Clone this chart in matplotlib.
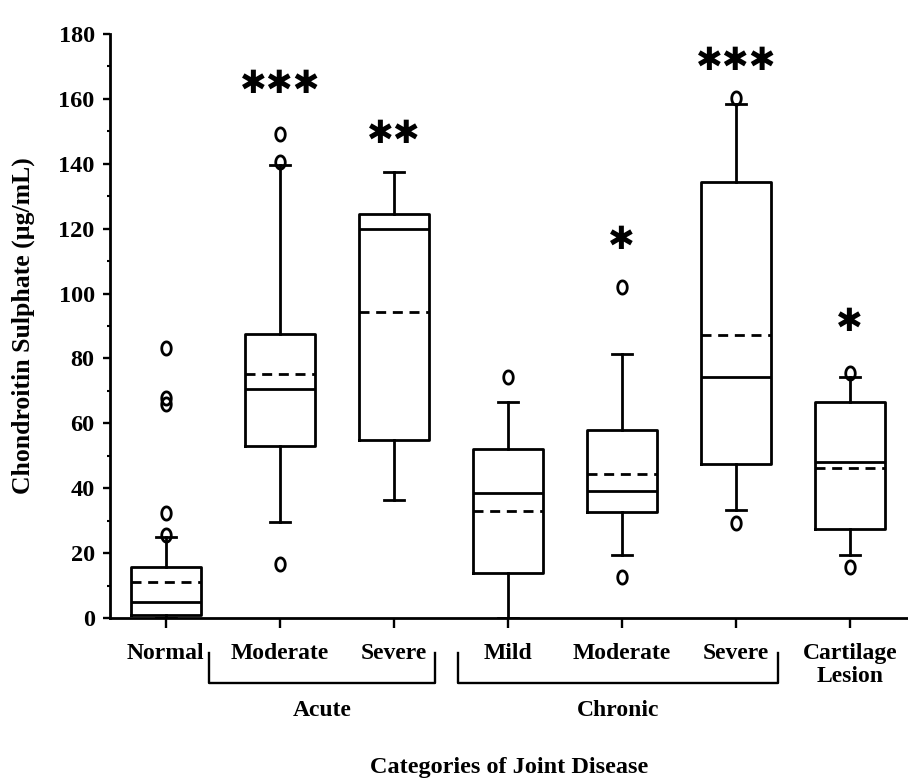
import matplotlib
matplotlib.use('Agg')
import matplotlib.pyplot as plt
from matplotlib.path import Path
from matplotlib.lines import Line2D
import numpy as np

# ---- data ----
categories = ['Normal', 'Moderate', 'Severe', 'Mild', 'Moderate', 'Severe', 'Cartilage\nLesion']
q1     = [0.8, 53.1, 55.0, 13.8, 32.6, 47.4, 27.4]
median = [4.8, 70.7, 119.8, 38.4, 39.1, 74.4, 48.2]
q3     = [15.6, 87.4, 124.6, 52.0, 57.9, 134.5, 66.5]
mean   = [11.2, 75.2, 94.2, 33.0, 44.4, 87.2, 46.1]
whislo = [0.0, 29.5, 36.3, 0.0, 19.5, 33.3, 19.5]
whishi = [25.0, 139.5, 137.4, 66.5, 81.5, 158.3, 74.3]
fliers = [[83.3, 67.9, 66.0, 32.3, 25.6],
          [16.5, 140.6, 149.2],
          [],
          [74.4],
          [12.7, 102.1],
          [29.4, 160.4],
          [15.8, 75.5]]
sig_labels = ['', '***', '**', '', '*', '***', '*']
sig_y = [None, 164.3, 148.9, None, 116.5, 171.5, 91.2]
group_names = ['Acute', 'Chronic']
group_spans = [(0.377, 2.36), (2.567, 5.37)]

FONT = 'Liberation Serif'
plt.rcParams['font.family'] = [FONT, 'DejaVu Sans']
plt.rcParams['font.weight'] = 'bold'

fig = plt.figure(figsize=(9.08, 7.83), dpi=100)
ax = fig.add_axes([110/908, 165/783, 798/908, 584/783])

stats = []
for i in range(len(categories)):
    stats.append(dict(q1=q1[i], med=median[i], q3=q3[i], mean=mean[i],
                      whislo=whislo[i], whishi=whishi[i], fliers=fliers[i]))

# elliptical open marker (like a letter 'o')
t = np.linspace(0, 2*np.pi, 60)
ell = Path(np.column_stack([0.72*np.cos(t), np.sin(t)]), closed=True)

lw = 2.0
pos = np.arange(len(categories))
ax.bxp(stats, positions=pos, widths=0.62, capwidths=0.18,
       showmeans=True, meanline=True, showfliers=True,
       boxprops=dict(color='black', linewidth=lw),
       medianprops=dict(color='black', linewidth=lw),
       meanprops=dict(color='black', linewidth=lw, linestyle=(0, (3.6, 2.4))),
       whiskerprops=dict(color='black', linewidth=lw),
       capprops=dict(color='black', linewidth=lw),
       flierprops=dict(marker=ell, markersize=9.5, markerfacecolor='none',
                       markeredgecolor='black', markeredgewidth=2.0, linestyle='none'))

# significance asterisks
for x, lab, y in zip(pos, sig_labels, sig_y):
    if lab:
        ax.text(x, y, '\u2731' * len(lab), ha='center', va='center',
                fontsize=23, family='DejaVu Sans', color='black')

ax.set_xlim(-0.49, 6.51)
ax.set_ylim(0, 180)
ax.set_yticks(np.arange(0, 181, 20))
ax.set_yticks(np.arange(10, 180, 20), minor=True)
ax.set_xticks(pos)
ax.set_xticklabels(categories, linespacing=1.1)
for sp in ['top', 'right']:
    ax.spines[sp].set_visible(False)
for sp in ['left', 'bottom']:
    ax.spines[sp].set_linewidth(2.0)

ax.tick_params(axis='y', which='major', direction='out', length=5, width=1.7,
               pad=6, labelsize=17.5)
ax.tick_params(axis='y', which='minor', direction='out', length=2.5, width=1.5)
ax.tick_params(axis='x', which='major', direction='out', length=7, width=1.7,
               pad=11, labelsize=17)
for lbl in ax.get_xticklabels() + ax.get_yticklabels():
    lbl.set_fontweight('bold')
    lbl.set_family(FONT)

ax.set_ylabel('Chondroitin Sulphate (\u00b5g/mL)', fontsize=18.5, fontweight='bold', family=FONT)
ax.yaxis.set_label_coords(-(110-35)/798, 0.5)

# group brackets
trans = ax.get_xaxis_transform()
y_top = -35/584
y_bot = -65/584
for (xa, xb), name in zip(group_spans, group_names):
    ax.add_line(Line2D([xa, xa, xb, xb], [y_top, y_bot, y_bot, y_top], transform=trans,
                       color='black', linewidth=1.7, clip_on=False))
    ax.text((xa + xb)/2, -92/584, name, transform=trans, ha='center', va='center',
            fontsize=17, fontweight='bold', family=FONT)

fig.text(509/908, 15/783, 'Categories of Joint Disease', ha='center', va='center',
         fontsize=17.5, fontweight='bold', family=FONT)

fig.savefig('out.png', dpi=100)
